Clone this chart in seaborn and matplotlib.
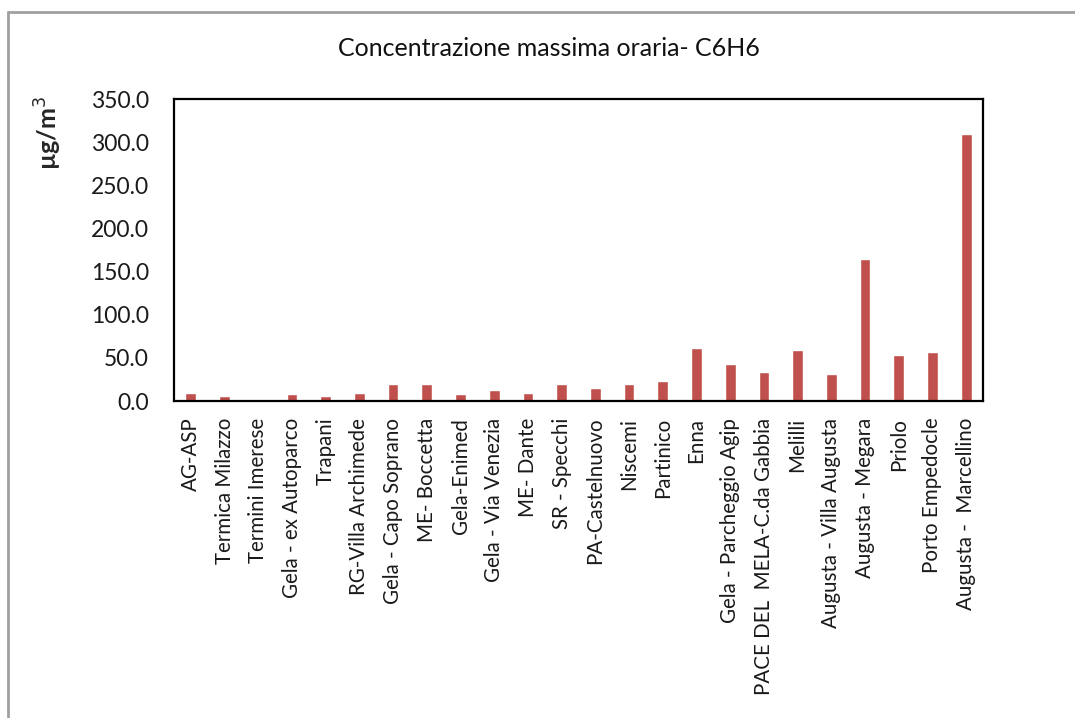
import numpy as np
import pandas as pd
import matplotlib.pyplot as plt
import matplotlib.lines as mlines
import seaborn as sns

stations = ['AG-ASP', 'Termica Milazzo', 'Termini Imerese', 'Gela - ex Autoparco',
            'Trapani', 'RG-Villa Archimede', 'Gela - Capo Soprano', 'ME- Boccetta',
            'Gela-Enimed', 'Gela - Via Venezia', 'ME- Dante', 'SR - Specchi',
            'PA-Castelnuovo', 'Niscemi', 'Partinico', 'Enna',
            'Gela - Parcheggio Agip', 'PACE DEL  MELA-C.da Gabbia', 'Melilli',
            'Augusta - Villa Augusta', 'Augusta - Megara', 'Priolo',
            'Porto Empedocle', 'Augusta -  Marcellino']
c6h6_max = [9, 6, 0, 8, 6, 9, 19.5, 19.5, 8, 13, 9, 19.5,
            15.5, 19.5, 23, 61, 43, 34, 59, 31, 164, 53, 57, 310]
yticks = [0, 50, 100, 150, 200, 250, 300, 350]

df = pd.DataFrame({'stazione': stations, 'valore': c6h6_max})

sns.set_style('white')
plt.rcParams['font.family'] = ['Lato', 'DejaVu Sans']

fig = plt.figure(figsize=(10.75, 7.18), dpi=100)
ax = fig.add_axes([174 / 1075, 1 - 401 / 718, (983 - 174) / 1075, (401 - 99) / 718])

sns.barplot(data=df, x='stazione', y='valore', color='#C0504D', saturation=1,
            width=0.32, ax=ax)

ax.set_ylim(0, 350)
ax.set_yticks(yticks)
ax.set_yticklabels([f'{v:.1f}' for v in yticks], fontsize=16.5, color='#1a1a1a')
ax.set_xlabel('')
ax.set_ylabel('')
ax.tick_params(axis='x', rotation=90, labelsize=14.8, length=0, pad=12,
               labelcolor='#1a1a1a')
ax.tick_params(axis='y', length=0, pad=18)
for lab in ax.get_xticklabels():
    lab.set_verticalalignment('top')
for sp in ax.spines.values():
    sp.set_visible(True)
    sp.set_color('black')
    sp.set_linewidth(1.6)

fig.text(549 / 1075, 1 - 49 / 718, 'Concentrazione massima oraria- C6H6',
         ha='center', va='center', fontsize=18, color='#111111')
fig.text(48 / 1075, 1 - 133 / 718, 'µg/m$^3$', rotation=90, ha='center',
         va='center', fontsize=18, fontweight='bold')

# outer chart frame
fig.add_artist(mlines.Line2D([8 / 1075, 8 / 1075], [0, 1 - 12 / 718],
                             transform=fig.transFigure, color='#a0a0a0', lw=2))
fig.add_artist(mlines.Line2D([8 / 1075, 1], [1 - 12 / 718, 1 - 12 / 718],
                             transform=fig.transFigure, color='#a0a0a0', lw=2))

fig.savefig('out.png', dpi=100)
